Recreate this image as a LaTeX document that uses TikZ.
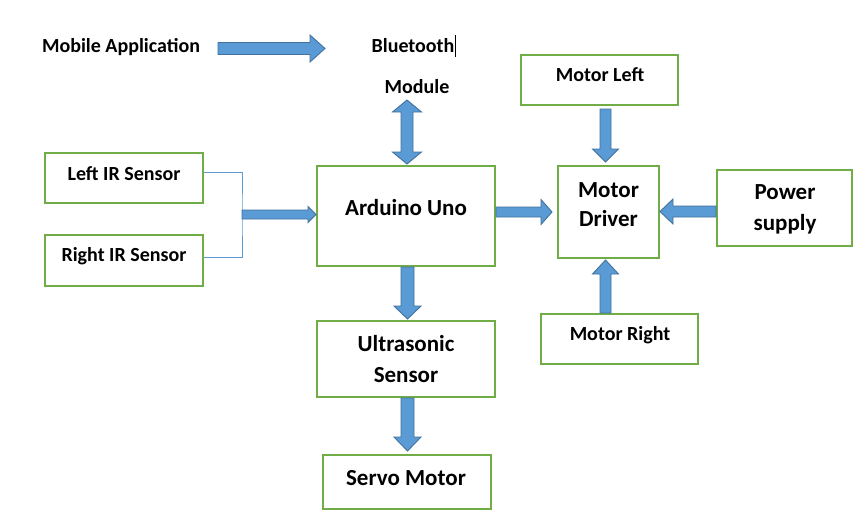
\documentclass[tikz,border=0pt]{standalone}
\usepackage{fontspec}
\setmainfont{Carlito}
\usetikzlibrary{calc}
\definecolor{boxgreen}{HTML}{70AD47}
\definecolor{arrfill}{HTML}{5B9BD5}
\definecolor{arrdraw}{HTML}{41719C}
\tikzset{
  box/.style={draw=boxgreen, line width=2pt, inner sep=0pt, anchor=center},
  small/.style={font=\fontsize{20}{24}\selectfont\bfseries, inner sep=0pt, anchor=base},
  big/.style={font=\fontsize{23}{29}\selectfont\bfseries, inner sep=0pt, anchor=base},
  blk/.style={fill=arrfill, draw=arrdraw, line width=0.9pt, line join=miter},
  irline/.style={draw=arrfill, line width=0.9pt},
}
% single block arrow: start, end, shaft half width, head half width, head length
\newcommand\barrow[5]{%
  \path (#1) coordinate (bS) (#2) coordinate (bE);
  \path ($(bE)!#5!(bS)$) coordinate (bH);
  \draw[blk] ($(bS)!#3!90:(bE)$) -- ($(bH)!#3!-90:(bS)$) -- ($(bH)!#4!-90:(bS)$)
    -- (bE) -- ($(bH)!#4!90:(bS)$) -- ($(bH)!#3!90:(bS)$) -- ($(bS)!#3!-90:(bE)$) -- cycle;}
% double block arrow
\newcommand\dbarrow[5]{%
  \path (#1) coordinate (bS) (#2) coordinate (bE);
  \path ($(bS)!#5!(bE)$) coordinate (bHa) ($(bE)!#5!(bS)$) coordinate (bHb);
  \draw[blk] (bS) -- ($(bHa)!#4!90:(bE)$) -- ($(bHa)!#3!90:(bE)$) -- ($(bHb)!#3!-90:(bS)$)
    -- ($(bHb)!#4!-90:(bS)$) -- (bE) -- ($(bHb)!#4!90:(bS)$) -- ($(bHb)!#3!90:(bS)$)
    -- ($(bHa)!#3!-90:(bE)$) -- ($(bHa)!#4!-90:(bE)$) -- cycle;}
\begin{document}
\begin{tikzpicture}[x=1pt,y=-1pt]
\useasboundingbox[fill=white] (0,0) rectangle (867,517);

% boxes
\node[box, minimum width=158pt, minimum height=50pt] (lir) at (124,178) {};
\node[box, minimum width=158pt, minimum height=51pt] (rir) at (124,260.5) {};
\node[box, minimum width=178pt, minimum height=100pt] (ard) at (406,216) {};
\node[box, minimum width=178pt, minimum height=76pt] (ult) at (406,359) {};
\node[box, minimum width=168pt, minimum height=54pt] (srv) at (407,482) {};
\node[box, minimum width=157pt, minimum height=50pt] (ml) at (599.5,80) {};
\node[box, minimum width=101pt, minimum height=92pt] (drv) at (608.5,212) {};
\node[box, minimum width=135pt, minimum height=76pt] (pwr) at (784.5,208) {};
\node[box, minimum width=157pt, minimum height=50pt] (mr) at (619.5,339) {};

% texts
\node[small] (mob) at (121,52) {Mobile Application};
\node[small] (bt) at (413,52) {Bluetooth};
\node[small] (mod) at (417,93) {Module};
\node[small] (lirT) at (124,180) {Left IR Sensor};
\node[small] (rirT) at (124,261) {Right IR Sensor};
\node[small] (mlT) at (600,81) {Motor Left};
\node[small] (mrT) at (620,340) {Motor Right};
\node[big] (ardT) at (406,215) {Arduino Uno};
\node[big] (drvT1) at (608.5,197.3) {Motor};
\node[big] (drvT2) at (608.5,226.7) {Driver};
\node[big] (pwrT1) at (785,199.3) {Power};
\node[big] (pwrT2) at (785,230.3) {supply};
\node[big] (ultT1) at (406,351) {Ultrasonic};
\node[big] (ultT2) at (406,382) {Sensor};
\node[big] (srvT) at (406,485) {Servo Motor};

% text cursor after Bluetooth
\coordinate (cur1) at (455.5,35);
\coordinate (cur2) at (455.5,57);
\draw[line width=0.8pt] (cur1) -- (cur2);

% connector points
\coordinate (a1s) at (218,48.5);
\coordinate (a1e) at (325,48.5);
\coordinate (btb) at (407,100);

% IR join lines
\coordinate (p1) at ($(lir.north east)!0.4!(lir.south east)$);
\coordinate (p2) at ($(rir.north east)!0.45!(rir.south east)$);
\coordinate (j) at (242,214.5);
\draw[irline] (p1) -| (j) |- (p2);

% block arrows
\barrow{a1s}{a1e}{6pt}{13.5pt}{15pt}
\dbarrow{btb}{$(ard.north)+(1,-1)$}{6pt}{14.5pt}{12pt}
\barrow{$(ard.south)+(1.5,0)$}{$(ult.north)+(1.5,-1)$}{6.5pt}{13.5pt}{13pt}
\barrow{$(ult.south)+(1.5,0)$}{$(srv.north)+(0.5,-3)$}{6.5pt}{13.5pt}{14pt}
\barrow{$(ard.east)+(0,-4)$}{$(drv.west)+(-5,0)$}{5pt}{12.5pt}{11pt}
\barrow{$(pwr.west)+(0,3.5)$}{$(drv.east)+(0,-0.5)$}{5.5pt}{12.5pt}{13pt}
\barrow{$(ml.south)+(6,3)$}{$(drv.north)+(-3,-3)$}{5.5pt}{13pt}{13pt}
\barrow{$(mr.north)+(-14,0)$}{$(drv.south)+(-3,1)$}{5.5pt}{13pt}{14pt}
\barrow{j}{j -| ard.west}{4.5pt}{8pt}{8pt}
\end{tikzpicture}
\end{document}
